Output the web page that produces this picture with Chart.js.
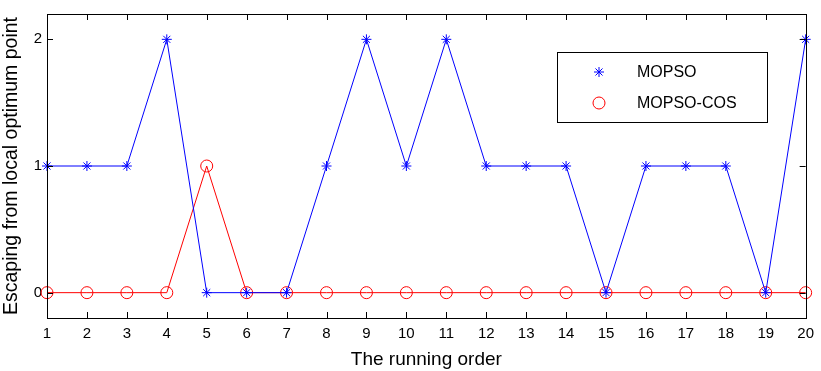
<!DOCTYPE html>
<html>
<head>
<meta charset="utf-8">
<script src="https://cdn.jsdelivr.net/npm/chart.js@4.4.0/dist/chart.umd.min.js"></script>
<style>
  html, body { margin: 0; padding: 0; background: #fff; }
  #wrap { width: 821px; height: 371px; }
</style>
</head>
<body>
<div id="wrap"><canvas id="runChart" width="821" height="371"></canvas></div>
<script>
var runOrder = [1,2,3,4,5,6,7,8,9,10,11,12,13,14,15,16,17,18,19,20];
var mopso    = [1,1,1,2,0,0,0,1,2,1,2,1,1,1,0,1,1,1,0,2];
var mopsoCos = [0,0,0,0,1,0,0,0,0,0,0,0,0,0,0,0,0,0,0,0];
var yTicks   = [0,1,2];
var seriesNames = ["MOPSO", "MOPSO-COS"];

var FONT = "'Liberation Sans', Arial, Helvetica, sans-serif";

function toPoints(vals){
    var pts = [];
    for (var i = 0; i < vals.length; i++) {
        pts.push({x: runOrder[i], y: vals[i]});
    }
    return pts;
}

// box around the axes + inward tick marks, matlab style
var boxPlugin = {
    id: 'boxPlugin',
    afterDraw: function(chart){
        var c = chart.ctx, a = chart.chartArea;
        var xs = chart.scales.x, ys = chart.scales.y;
        c.save();
        c.strokeStyle = '#000';
        c.lineWidth = 1;
        c.strokeRect(Math.round(a.left) + 0.5, Math.round(a.top) + 0.5,
                     Math.round(a.right - a.left), Math.round(a.bottom - a.top));
        c.beginPath();
        for (var i = 0; i < runOrder.length; i++) {
            var px = Math.round(xs.getPixelForValue(runOrder[i])) + 0.5;
            c.moveTo(px, a.bottom); c.lineTo(px, a.bottom - 6);
            c.moveTo(px, a.top); c.lineTo(px, a.top + 6);
        }
        for (var j = 0; j < yTicks.length; j++) {
            var py = Math.round(ys.getPixelForValue(yTicks[j])) + 0.5;
            c.moveTo(a.left, py); c.lineTo(a.left + 6, py);
            c.moveTo(a.right, py); c.lineTo(a.right - 6, py);
        }
        c.stroke();
        c.restore();
    }
};

// legend box drawn inside the plot area
var legendBox = {
    id: 'legendBox',
    afterDraw: function(chart){
        var c = chart.ctx;
        var bx = 557, by = 52, bw = 210, bh = 70;
        c.save();
        c.fillStyle = '#fff';
        c.fillRect(bx, by, bw, bh);
        c.strokeStyle = '#000';
        c.lineWidth = 1;
        c.strokeRect(bx + 0.5, by + 0.5, bw, bh);
        c.font = '16px ' + FONT;
        c.textBaseline = 'middle';
        c.textAlign = 'left';
        chart.data.datasets.forEach(function(ds, k){
            var cy = by + 20 + k * 31;
            c.strokeStyle = ds.borderColor;
            c.fillStyle = 'rgba(0,0,0,0)';
            c.lineWidth = 1;
            Chart.helpers.drawPoint(c, {
                pointStyle: ds.pointStyle,
                radius: ds.pointRadius,
                borderWidth: 1
            }, 599, cy);
            c.fillStyle = '#000';
            c.fillText(ds.label, 637, cy + 1);
        });
        c.restore();
    }
};

var ctx = document.getElementById("runChart").getContext("2d");
var runChart = new Chart(ctx, {
    type: 'line',
    data: {
        datasets: [
            {
                label: seriesNames[0],
                data: toPoints(mopso),
                borderColor: '#0000ff',
                backgroundColor: 'rgba(0,0,0,0)',
                borderWidth: 1,
                pointStyle: 'star',
                pointRadius: 5,
                pointBorderColor: '#0000ff',
                pointBorderWidth: 1,
                lineTension: 0,
                fill: false,
                clip: false
            },
            {
                label: seriesNames[1],
                data: toPoints(mopsoCos),
                borderColor: '#ff0000',
                backgroundColor: 'rgba(0,0,0,0)',
                borderWidth: 1,
                pointStyle: 'circle',
                pointRadius: 6,
                pointBorderColor: '#ff0000',
                pointBackgroundColor: 'rgba(0,0,0,0)',
                pointBorderWidth: 1,
                lineTension: 0,
                fill: false,
                clip: false
            }
        ]
    },
    options: {
        responsive: false,
        animation: false,
        layout: { padding: { top: 11, right: 15, left: 0, bottom: 0 } },
        plugins: {
            legend: { display: false },
            tooltip: { enabled: false }
        },
        scales: {
            x: {
                type: 'linear',
                min: 1,
                max: 20,
                grid: { display: false, drawTicks: false },
                border: { display: false },
                afterBuildTicks: function(s){
                    s.ticks = runOrder.map(function(v){ return {value: v}; });
                },
                afterFit: function(s){ s.height = 53; },
                ticks: {
                    color: '#000',
                    font: { family: FONT, size: 15 },
                    padding: 7,
                    maxRotation: 0,
                    autoSkip: false
                },
                title: {
                    display: true,
                    text: 'The running order',
                    color: '#000',
                    font: { family: FONT, size: 19 },
                    padding: { top: 1, bottom: 0 }
                }
            },
            y: {
                min: -0.2,
                max: 2.2,
                grid: { display: false, drawTicks: false },
                border: { display: false },
                afterBuildTicks: function(s){
                    s.ticks = yTicks.map(function(v){ return {value: v}; });
                },
                afterFit: function(s){ s.width = 47; },
                ticks: {
                    color: '#000',
                    font: { family: FONT, size: 15 },
                    padding: 5
                },
                title: {
                    display: true,
                    text: 'Escaping from local optimum point',
                    color: '#000',
                    font: { family: FONT, size: 19.5 },
                    padding: { top: 0, bottom: 3 }
                }
            }
        }
    },
    plugins: [boxPlugin, legendBox]
});
</script>
</body>
</html>
